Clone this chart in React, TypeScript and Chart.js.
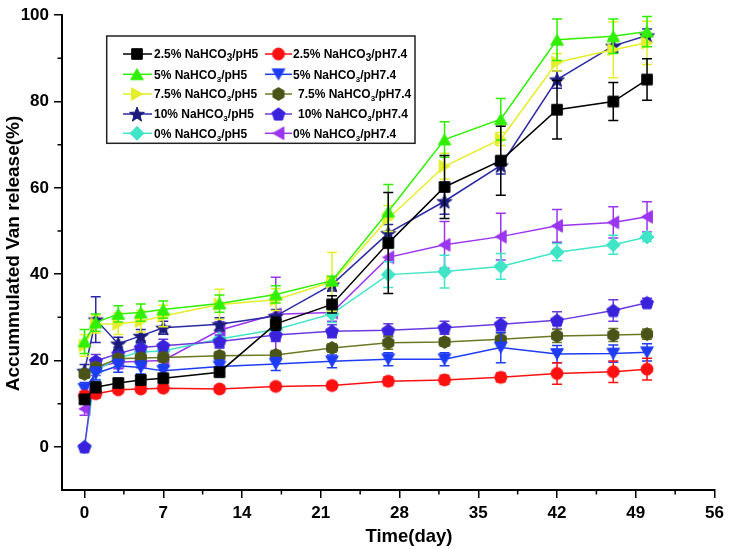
import React, { useEffect, useRef } from "react";
import { Chart, registerables } from "chart.js";

Chart.register(...registerables);

// ---------- data ----------
const days = [0, 1, 3, 5, 7, 12, 17, 22, 27, 32, 37, 42, 47, 50];
const xTicks = [0, 7, 14, 21, 28, 35, 42, 49, 56];
const xMinorTicks = [3.5, 10.5, 17.5, 24.5, 31.5, 38.5, 45.5, 52.5];
const yTicks = [0, 20, 40, 60, 80, 100];
const yMinorTicks = [10, 30, 50, 70, 90];

const labels = [
  "2.5% NaHCO3/pH5",
  "2.5% NaHCO3/pH7.4",
  "5% NaHCO3/pH5",
  "5% NaHCO3/pH7.4",
  "7.5% NaHCO3/pH5",
  "7.5% NaHCO3/pH7.4",
  "10% NaHCO3/pH5",
  "10% NaHCO3/pH7.4",
  "0% NaHCO3/pH5",
  "0% NaHCO3/pH7.4",
];

const na25pH5 = [11.0, 13.8, 14.8, 15.5, 15.9, 17.3, 28.5, 33.0, 47.2, 60.2, 66.3, 78.1, 80.0, 85.1];
const na25pH5Err = [1, 1.2, 1, 1.2, 1, 1, 1.5, 2, 11.7, 7.3, 8, 6.8, 4.4, 4.8];
const na25pH74 = [11.8, 12.3, 13.2, 13.4, 13.6, 13.4, 14.0, 14.2, 15.2, 15.5, 16.1, 17.0, 17.4, 18.0];
const na25pH74Err = [1, 1, 0.8, 0.8, 0.8, 0.8, 0.8, 0.8, 1, 1, 1, 2.5, 2.5, 2.5];
const na5pH5 = [24.4, 28.8, 30.8, 31.1, 31.8, 33.2, 35.3, 38.5, 54.5, 71.2, 75.9, 94.3, 95.1, 96.2];
const na5pH5Err = [2.8, 2, 1.9, 2, 2, 2, 2, 1, 6.3, 4.1, 4.8, 4.8, 4, 3.5];
const na5pH74 = [13.4, 17.0, 18.8, 18.4, 17.6, 18.6, 19.2, 19.8, 20.3, 20.3, 23.0, 21.5, 21.6, 21.9];
const na5pH74Err = [1.5, 1.5, 1.5, 1.5, 1.5, 1.5, 1.5, 1.5, 1.5, 1.5, 3.5, 2, 2, 2];
const na75pH5 = [23.5, 28.4, 28.5, 29.1, 30.3, 33.0, 34.1, 38.2, 52.9, 65.0, 71.3, 89.1, 92.0, 93.6];
const na75pH5Err = [2.5, 2, 2.5, 2.5, 2.5, 3.5, 2.5, 6.8, 3, 3, 1.5, 2, 6.5, 5];
const na75pH74 = [16.9, 18.4, 20.4, 20.6, 20.7, 21.1, 21.3, 22.9, 24.1, 24.3, 24.9, 25.7, 25.9, 26.1];
const na75pH74Err = [1, 1, 1, 1, 1, 1, 1, 1, 1.5, 1, 1.5, 1.5, 1.5, 1.2];
const na10pH5 = [17.6, 29.5, 23.9, 25.7, 27.6, 28.4, 30.3, 37.6, 49.5, 56.9, 65.2, 85.1, 92.9, 95.3];
const na10pH5Err = [1.5, 5.3, 1.5, 1.5, 1.5, 1.5, 1.5, 1.5, 2, 3, 2, 2, 1.5, 1.5];
const na10pH74 = [0, 19.9, 21.6, 23.0, 23.4, 24.4, 25.9, 26.8, 27.0, 27.6, 28.4, 29.3, 31.6, 33.4];
const na10pH74Err = [0.5, 1.5, 1.5, 1.5, 1.5, 1.5, 1.5, 1.5, 1.5, 1.5, 1.5, 2, 2.5, 1];
const na0pH5 = [0, 17.6, 20.6, 22.0, 22.2, 25.0, 27.2, 30.8, 39.9, 40.6, 41.8, 45.1, 46.8, 48.6];
const na0pH5Err = [0, 2, 2, 2, 2, 2, 2, 2, 3, 3.8, 3, 2, 2.2, 1];
const na0pH74 = [8.8, 18.5, 19.6, 19.8, 20.0, 27.0, 30.7, 31.1, 43.9, 46.8, 48.7, 51.2, 52.0, 53.3];
const na0pH74Err = [1.5, 2, 1.5, 1.5, 1.5, 2, 8.6, 2, 4, 5.4, 5.4, 3.8, 3.6, 3.5];

const seriesValues = [na25pH5, na25pH74, na5pH5, na5pH74, na75pH5, na75pH74, na10pH5, na10pH74, na0pH5, na0pH74];
const seriesErrors = [na25pH5Err, na25pH74Err, na5pH5Err, na5pH74Err, na75pH5Err, na75pH74Err, na10pH5Err, na10pH74Err, na0pH5Err, na0pH74Err];

// ---------- styles ----------
const styles = [
  { shape: "square", fill: "#000000", line: "#000000" },
  { shape: "circle", fill: "#FF1010", line: "#FF1010" },
  { shape: "up", fill: "#30F000", line: "#30F000" },
  { shape: "down", fill: "#1E3CF5", line: "#1E3CF5" },
  { shape: "right", fill: "#E4EE2A", line: "#E4EE2A" },
  { shape: "hexagon", fill: "#4A5418", line: "#6B7A22" },
  { shape: "star", fill: "#1B1B7D", line: "#2A2AA5" },
  { shape: "pentagon", fill: "#3A22DD", line: "#6A3AE0" },
  { shape: "diamond", fill: "#40E5C8", line: "#40E5C8" },
  { shape: "left", fill: "#9A35F0", line: "#9A35F0" },
];

const FONT = "'Liberation Sans', Arial, Helvetica, sans-serif";

function polyPath(ctx: CanvasRenderingContext2D, cx: number, cy: number, n: number, r: number, start: number) {
  for (let i = 0; i < n; i++) {
    const a = start + (i * 2 * Math.PI) / n;
    const px = cx + r * Math.cos(a);
    const py = cy + r * Math.sin(a);
    if (i === 0) ctx.moveTo(px, py);
    else ctx.lineTo(px, py);
  }
  ctx.closePath();
}

function makeMarker(shape: string, color: string): HTMLCanvasElement {
  const S = 20;
  const c = document.createElement("canvas");
  c.width = S;
  c.height = S;
  const ctx = c.getContext("2d")!;
  const cx = S / 2;
  const cy = S / 2;
  ctx.beginPath();
  const deg = Math.PI / 180;
  switch (shape) {
    case "square":
      ctx.rect(cx - 5.3, cy - 5.3, 10.6, 10.6);
      break;
    case "circle":
      ctx.arc(cx, cy, 6, 0, Math.PI * 2);
      break;
    case "up":
      polyPath(ctx, cx, cy + 1.7, 3, 7.3, -90 * deg);
      break;
    case "down":
      polyPath(ctx, cx, cy - 1.7, 3, 7.3, 90 * deg);
      break;
    case "right":
      polyPath(ctx, cx - 1.7, cy, 3, 7.3, 0);
      break;
    case "left":
      polyPath(ctx, cx + 1.7, cy, 3, 7.3, 180 * deg);
      break;
    case "diamond":
      polyPath(ctx, cx, cy, 4, 7, -90 * deg);
      break;
    case "hexagon":
      polyPath(ctx, cx, cy, 6, 6.4, -90 * deg);
      break;
    case "pentagon":
      polyPath(ctx, cx, cy + 0.6, 5, 6.8, -90 * deg);
      break;
    case "star": {
      for (let i = 0; i < 10; i++) {
        const r = i % 2 === 0 ? 7.8 : 3.3;
        const a = -90 * deg + (i * Math.PI) / 5;
        const px = cx + r * Math.cos(a);
        const py = cy + 0.8 + r * Math.sin(a);
        if (i === 0) ctx.moveTo(px, py);
        else ctx.lineTo(px, py);
      }
      ctx.closePath();
      break;
    }
  }
  ctx.fillStyle = color;
  ctx.fill();
  ctx.strokeStyle = color;
  ctx.lineWidth = 1;
  ctx.stroke();
  return c;
}

const errorBarPlugin = {
  id: "errorBars",
  beforeDatasetDraw(chart: any, args: any) {
    const ds = chart.data.datasets[args.index];
    const errs: number[] = ds.errors || [];
    const yScale = chart.scales.y;
    const ctx = chart.ctx;
    ctx.save();
    ctx.strokeStyle = ds.borderColor;
    ctx.lineWidth = 1.5;
    args.meta.data.forEach((pt: any, i: number) => {
      const e = errs[i];
      if (!e) return;
      const v = ds.data[i].y;
      const top = yScale.getPixelForValue(v + e);
      const bot = yScale.getPixelForValue(v - e);
      const x = pt.x;
      ctx.beginPath();
      ctx.moveTo(x, top);
      ctx.lineTo(x, bot);
      ctx.moveTo(x - 5, top);
      ctx.lineTo(x + 5, top);
      ctx.moveTo(x - 5, bot);
      ctx.lineTo(x + 5, bot);
      ctx.stroke();
    });
    ctx.restore();
  },
};

function drawLegendText(ctx: CanvasRenderingContext2D, text: string, x: number, y: number, subSize: number) {
  const idx = text.indexOf("NaHCO3");
  const pre = text.slice(0, idx + 5);
  const post = text.slice(idx + 6);
  ctx.font = `bold 12px ${FONT}`;
  ctx.fillText(pre, x, y);
  let cx = x + ctx.measureText(pre).width;
  ctx.font = `bold ${subSize}px ${FONT}`;
  ctx.fillText("3", cx, y + 3);
  cx += ctx.measureText("3").width;
  ctx.font = `bold 12px ${FONT}`;
  ctx.fillText(post, cx, y);
}

function makeDecorPlugin(markers: HTMLCanvasElement[]) {
  return {
    id: "decor",
    afterDraw(chart: any) {
      const ctx: CanvasRenderingContext2D = chart.ctx;
      const xs = chart.scales.x;
      const ys = chart.scales.y;
      const area = chart.chartArea;
      ctx.save();
      // minor ticks
      ctx.strokeStyle = "#000";
      ctx.lineWidth = 1.5;
      ctx.beginPath();
      xMinorTicks.forEach((v) => {
        const px = xs.getPixelForValue(v);
        ctx.moveTo(px, area.bottom);
        ctx.lineTo(px, area.bottom + 4.5);
      });
      yMinorTicks.forEach((v) => {
        const py = ys.getPixelForValue(v);
        ctx.moveTo(area.left, py);
        ctx.lineTo(area.left - 4.5, py);
      });
      ctx.stroke();

      // axis titles
      ctx.fillStyle = "#000";
      ctx.font = `bold 18.5px ${FONT}`;
      ctx.textAlign = "center";
      ctx.textBaseline = "alphabetic";
      ctx.fillText("Time(day)", 409, 541.5);
      ctx.save();
      ctx.translate(18.5, 253.5);
      ctx.rotate(-Math.PI / 2);
      ctx.font = `bold 19px ${FONT}`;
      ctx.fillText("Accummulated Van release(%)", 0, 0);
      ctx.restore();

      // legend
      const bx = 106.7, by = 36, bw = 308.3, bh = 107.3;
      ctx.fillStyle = "#fff";
      ctx.fillRect(bx, by, bw, bh);
      ctx.strokeStyle = "#222";
      ctx.lineWidth = 1.5;
      ctx.strokeRect(bx, by, bw, bh);
      const rows = [54, 74.3, 94, 114, 133.3];
      const cols = [
        { l0: 123, l1: 152, m: 137, t: 154 },
        { l0: 265, l1: 292, m: 278.5, t: 293 },
      ];
      ctx.textAlign = "left";
      ctx.textBaseline = "alphabetic";
      labels.forEach((lab, i) => {
        const r = Math.floor(i / 2);
        const c = i % 2;
        const y = rows[r];
        const col = cols[c];
        ctx.strokeStyle = styles[i].line;
        ctx.lineWidth = 1.5;
        ctx.beginPath();
        ctx.moveTo(col.l0, y);
        ctx.lineTo(col.l1, y);
        ctx.stroke();
        const mk = markers[i];
        ctx.drawImage(mk, col.m - mk.width / 2, y - mk.height / 2);
        ctx.fillStyle = "#000";
        const tx = c === 1 && (r === 2 || r === 3) ? 298 : col.t;
        drawLegendText(ctx, lab, tx, y + 4.3, r === 0 ? 10 : 8);
      });
      ctx.restore();
    },
  };
}

export default function App() {
  const ref = useRef<HTMLCanvasElement>(null);
  useEffect(() => {
    const canvas = ref.current;
    if (!canvas) return;
    const markers = styles.map((s) => makeMarker(s.shape, s.fill));
    const tickFont = { family: FONT, weight: "bold" as const, size: 17 };
    const chart = new Chart(canvas, {
      type: "line",
      data: {
        datasets: seriesValues.map((vals, i) => ({
          label: labels[i],
          data: days.map((d, j) => ({ x: d, y: vals[j] })),
          errors: seriesErrors[i],
          borderColor: styles[i].line,
          backgroundColor: styles[i].fill,
          borderWidth: 1.5,
          pointStyle: markers[i],
          pointRadius: 6,
          pointHoverRadius: 6,
          fill: false,
          tension: 0,
          clip: false,
        })) as any,
      },
      options: {
        responsive: false,
        animation: false,
        events: [],
        layout: { padding: { left: 0, top: 12, right: 13, bottom: 0 } },
        plugins: { legend: { display: false }, tooltip: { enabled: false } },
        scales: {
          x: {
            type: "linear",
            min: -2,
            max: 56,
            afterBuildTicks: (s: any) => {
              s.ticks = xTicks.map((v) => ({ value: v }));
            },
            afterFit: (s: any) => {
              s.height = 59;
            },
            grid: { display: true, drawOnChartArea: false, drawTicks: true, tickLength: 8, color: "#000", lineWidth: 1.5 },
            border: { display: true, color: "#000", width: 2 },
            ticks: { font: tickFont, color: "#000", padding: 5, autoSkip: false, maxRotation: 0 },
          },
          y: {
            type: "linear",
            min: -10,
            max: 100,
            afterBuildTicks: (s: any) => {
              s.ticks = yTicks.map((v) => ({ value: v }));
            },
            afterFit: (s: any) => {
              s.width = 62;
            },
            grid: { display: true, drawOnChartArea: false, drawTicks: true, tickLength: 8, color: "#000", lineWidth: 1.5 },
            border: { display: true, color: "#000", width: 2 },
            ticks: { font: tickFont, color: "#000", padding: 5, autoSkip: false },
          },
        },
      },
      plugins: [errorBarPlugin, makeDecorPlugin(markers)],
    });
    return () => chart.destroy();
  }, []);
  return (
    <div style={{ position: "fixed", left: 0, top: 0, width: 729, height: 549, background: "#fff" }}>
      <canvas ref={ref} width={729} height={549} style={{ display: "block", width: 729, height: 549 }} />
    </div>
  );
}
